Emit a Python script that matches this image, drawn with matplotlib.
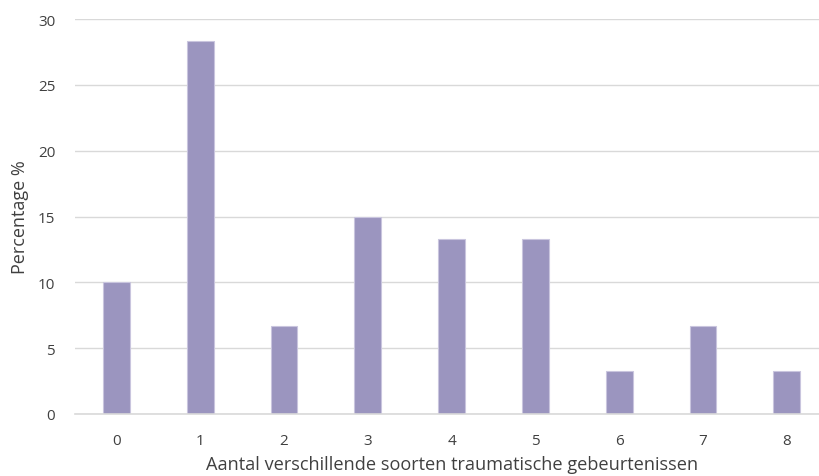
import numpy as np
import matplotlib.pyplot as plt

# aantal verschillende traumatische gebeurtenissen vs percentage
categories = ["0", "1", "2", "3", "4", "5", "6", "7", "8"]
percentages = [10.0, 28.3, 6.7, 15.0, 13.3, 13.3, 3.3, 6.7, 3.3]

plt.rcParams['font.family'] = ['Open Sans', 'DejaVu Sans']

fig = plt.figure(figsize=(8.19, 4.77), dpi=100)
ax = fig.add_axes([0.0911, 0.13, 0.9206, 0.828])

x = np.arange(len(categories))
ax.bar(x, percentages, width=0.32, color='#9b95bf', edgecolor='#c9c5de',
       linewidth=0.8, zorder=3)

ax.set_xlim(-0.5, len(categories) - 0.5)
ax.set_ylim(0, 30)
ax.set_yticks(range(0, 31, 5))
ax.set_xticks(x)
ax.set_xticklabels(categories)

ax.grid(axis='y', color='#d9d9d9', linewidth=1, zorder=0)
# baseline at 0 on top of the bars
ax.axhline(0, color='#d9d9d9', linewidth=1.2, zorder=4, clip_on=False)
for s in ax.spines.values():
    s.set_visible(False)
ax.tick_params(length=0, labelsize=11, colors='#404040')
ax.tick_params(axis='x', pad=14)
ax.tick_params(axis='y', pad=14)

ax.set_xlabel("Aantal verschillende soorten traumatische gebeurtenissen",
              fontsize=13.1, color='#404040', labelpad=5)
ax.set_ylabel("Percentage %", fontsize=13, color='#404040', labelpad=6)

fig.savefig('out.png', dpi=100)
